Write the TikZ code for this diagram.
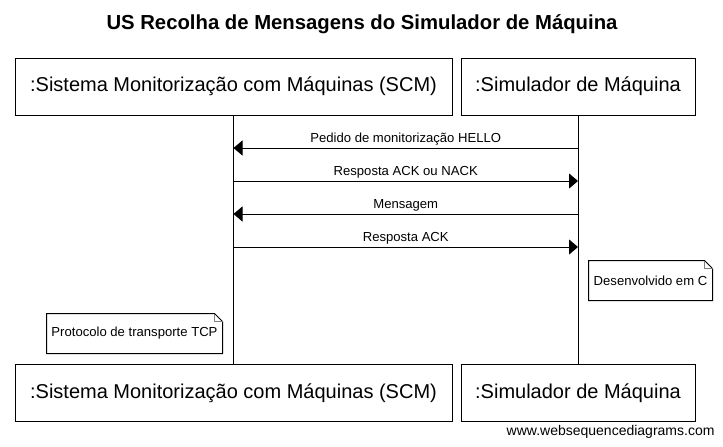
\documentclass[tikz,border=0pt]{standalone}
\usepackage{fontspec}
\setmainfont{Liberation Sans}
\usetikzlibrary{arrows.meta,positioning}

\begin{document}
\begin{tikzpicture}[x=1pt, y=-1pt,
	>={Triangle[length=9pt,width=15pt]},   % filled arrow tips
	line width=1pt,
	teilnehmer/.style={draw, minimum height=57pt, inner sep=0pt, font=\fontsize{20}{22}\selectfont},
	nachricht/.style={font=\fontsize{13.1}{15}\selectfont, inner sep=2pt},
	notiz/.style={minimum height=39pt, inner sep=0pt, font=\fontsize{13.1}{15}\selectfont}]
	% page frame
	\useasboundingbox (0,0) rectangle (723,447);
	% title
	\node[font=\fontsize{20.3}{23}\selectfont\bfseries] (titel) at (362,24) {US Recolha de Mensagens do Simulador de Máquina};
	% participants, top and bottom
	\node[teilnehmer, minimum width=437pt] (scmOben) at (233.5,86.5) {:Sistema Monitorização com Máquinas (SCM)};
	\node[teilnehmer, minimum width=234pt] (simOben) at (578,86.5) {:Simulador de Máquina};
	\node[teilnehmer, minimum width=437pt] (scmUnten) at (233.5,393) {:Sistema Monitorização com Máquinas (SCM)};
	\node[teilnehmer, minimum width=234pt] (simUnten) at (578,393) {:Simulador de Máquina};
	% lifelines
	\draw (scmOben.south) -- (scmUnten.north);
	\draw (simOben.south) -- (simUnten.north);
	% message points on the lifelines
	\foreach \i/\y in {1/148,2/181,3/214,4/247} {
		\coordinate (scm\i) at (scmOben.south |- 0,\y);
		\coordinate (sim\i) at (simOben.south |- 0,\y);
	}
	% messages
	\draw[->] (sim1) -- node[nachricht, above] {Pedido de monitorização HELLO} (scm1);
	\draw[->] (scm2) -- node[nachricht, above] {Resposta ACK ou NACK} (sim2);
	\draw[->] (sim3) -- node[nachricht, above] {Mensagem} (scm3);
	\draw[->] (scm4) -- node[nachricht, above] {Resposta ACK} (sim4);
	% notes with folded corner
	\node[notiz, minimum width=123pt] (notizC) at (650.5,280.5) {Desenvolvido em C};
	\node[notiz, minimum width=175pt] (notizTCP) at (134.5,333.5) {Protocolo de transporte TCP};
	\foreach \n in {notizC, notizTCP} {
		\draw (\n.north west) -- ([xshift=-8pt]\n.north east) -- ([yshift=-8pt]\n.north east)
			-- (\n.south east) -- (\n.south west) -- cycle;
		\draw[gray] ([xshift=-8pt]\n.north east) |- ([yshift=-8pt]\n.north east);
	}
	% footer
	\node[anchor=east, font=\fontsize{14}{16}\selectfont, inner sep=0pt] (fuss) at (715,432) {www.websequencediagrams.com};
\end{tikzpicture}
\end{document}
